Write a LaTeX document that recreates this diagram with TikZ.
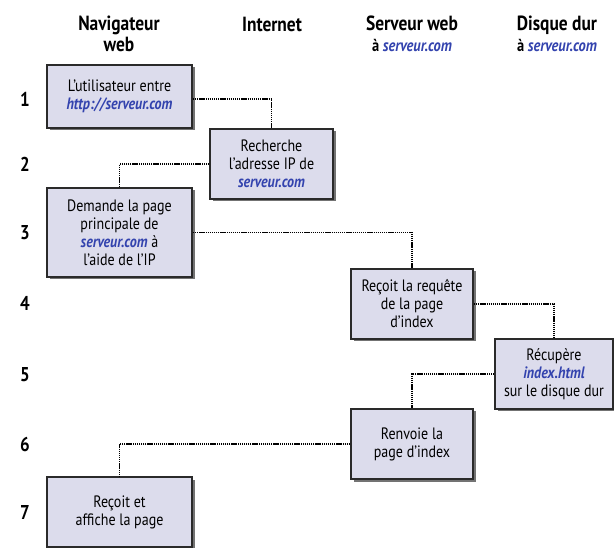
\documentclass[tikz,border=0pt]{standalone}
\usepackage{fontspec}
\setmainfont{PT Sans}[FakeStretch=0.85]
\usetikzlibrary{shadows}
\definecolor{boxfill}{HTML}{DCDCEC}
\definecolor{boxline}{HTML}{2A2A2A}
\definecolor{linkblue}{HTML}{3343AE}
\newcommand{\lnk}[1]{\textcolor{linkblue}{\bfseries\itshape #1}}
\newcommand{\hlnk}[1]{\textcolor{linkblue}{\itshape #1}}
\tikzset{
  x=1pt, y=-1pt,
  stepbox/.style={draw=boxline, line width=1.8pt, fill=boxfill, align=center,
    inner sep=2pt, font=\fontsize{16.5}{18}\selectfont,
    drop shadow={shadow xshift=2.5pt, shadow yshift=-2.5pt, fill=black, opacity=0.55}},
  header/.style={align=center, font=\fontsize{20.5}{21}\selectfont\bfseries},
  rowlabel/.style={font=\fontsize{20}{20}\selectfont\bfseries},
  link/.style={draw=black, line width=1.5pt, dash pattern=on 1.3pt off 0.8pt}
}
\begin{document}
\begin{tikzpicture}
\useasboundingbox (0,0) rectangle (614,548);
% column headings
\node[header] (hnav) at (119,34) {Navigateur\\web};
\node[header] (hnet) at (272,24) {Internet};
\node[header] (hsrv) at (412,34) {Serveur web\\{\fontsize{17}{18}\selectfont à \hlnk{serveur.com}}};
\node[header] (hdsk) at (557,34) {Disque dur\\{\fontsize{17}{18}\selectfont à \hlnk{serveur.com}}};
% step numbers
\foreach \n/\yy in {1/99,2/164,3/233,4/303,5/375,6/444,7/512}
  \node[rowlabel] (row\n) at (25,\yy) {\n};
% steps
\node[stepbox, minimum width=145pt, minimum height=63pt] (b1) at (119.5,96.5)
  {L’utilisateur entre\\\lnk{http://serveur.com}};
\node[stepbox, minimum width=123pt, minimum height=70pt] (b2) at (271.5,164)
  {Recherche\\l’adresse IP de\\\lnk{serveur.com}};
\node[stepbox, minimum width=145pt, minimum height=89pt] (b3) at (119.5,232.5)
  {Demande la page\\principale de\\\lnk{serveur.com} à\\l’aide de l’IP};
\node[stepbox, minimum width=122pt, minimum height=70pt] (b4) at (412,304)
  {Reçoit la requête\\de la page\\d’index};
\node[stepbox, minimum width=118pt, minimum height=70pt] (b5) at (554,374)
  {Récupère\\\lnk{index.html}\\sur le disque dur};
\node[stepbox, minimum width=122pt, minimum height=70pt] (b6) at (412,444)
  {Renvoie la\\page d’index};
\node[stepbox, minimum width=145pt, minimum height=70pt] (b7) at (119.5,512)
  {Reçoit et\\affiche la page};
% dotted connectors
\draw[link] (b1.east |- row1) -| (b2.north);
\draw[link] (b2.west) -| (b3.north);
\draw[link] (b3.east) -| (b4.north);
\draw[link] (b4.east) -| (b5.north);
\draw[link] (b5.west) -| (b6.north);
\draw[link] (b6.west) -| (b7.north);
\end{tikzpicture}
\end{document}
